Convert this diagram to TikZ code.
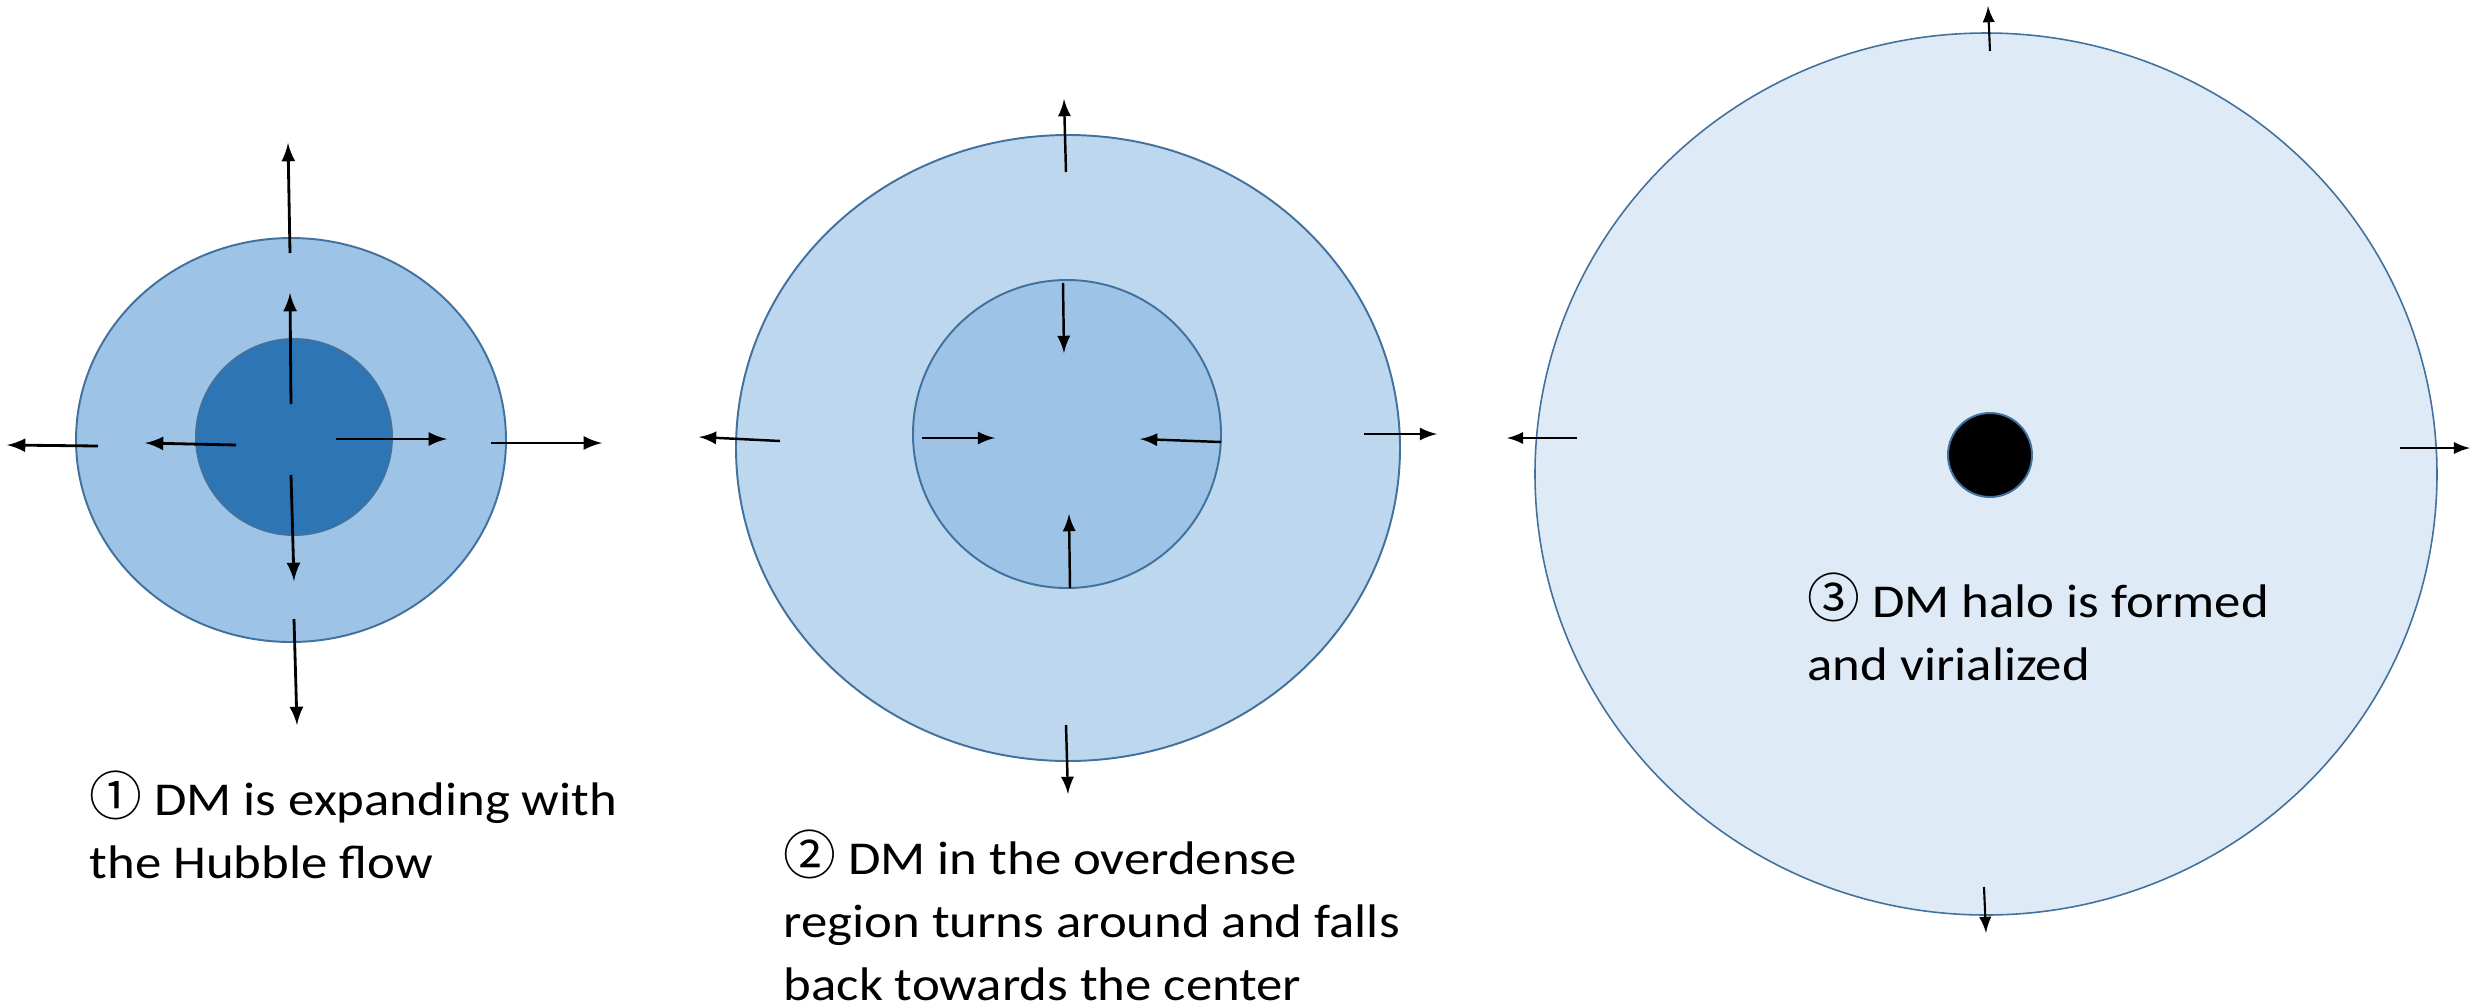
\documentclass[tikz,border=0pt]{standalone}
\usepackage{fontspec}
\setmainfont{Carlito}[FakeStretch=1.12]
\newfontfamily\circfont{Noto Sans CJK JP}

\definecolor{haloline}{HTML}{41719C}
\definecolor{haloA}{HTML}{9DC3E6}
\definecolor{coreA}{HTML}{2E75B6}
\definecolor{haloB}{HTML}{BDD7EE}
\definecolor{haloC}{HTML}{DEEBF7}

\newcommand{\stagenum}[1]{{\circfont\fontsize{15}{15}\selectfont #1}}

\begin{document}
\begin{tikzpicture}[> = latex, x = 0.01cm, y = -0.01cm,
	shell/.style = {draw = haloline, line width = 0.55pt},
	flow/.style = {->, line width = 0.8pt},
	thinflow/.style = {->, line width = 0.6pt},
	caption/.style = {anchor = base west, inner sep = 0pt, align = left,
		font = \fontsize{13.4}{17.8}\selectfont}]

	\useasboundingbox (0, 0) rectangle (2471, 1005);

	% Stage 1: expansion

	\draw [shell, fill = haloA] (291, 440) ellipse [x radius = 215, y radius = 202];
	\draw [shell, fill = coreA] (294, 437) circle [radius = 98];

	\foreach \xa/\ya/\xb/\yb in {290/253/288/143, 291/404/290/293, 98/446/7/445,
		236/445/145/443, 336/439/447/439, 491/443/602/443, 291/475/294/581, 294/619/297/725}
	{
		\draw [flow] (\xa, \ya) -- (\xb, \yb);
	}

	% Stage 2: turn around

	\draw [shell, fill = haloB] (1068, 448) ellipse [x radius = 332, y radius = 313];
	\draw [shell, fill = haloA] (1067, 434) circle [radius = 154];

	\foreach \xa/\ya/\xb/\yb in {1066/172/1064/99, 1063/283/1064/353, 780/441/699/437,
		922/438/995/438, 1221/442/1140/439, 1364/434/1437/434, 1070/588/1069/514, 1066/725/1068/794}
	{
		\draw [flow, line width = 0.7pt] (\xa, \ya) -- (\xb, \yb);
	}

	% Stage 3: virialized halo

	\draw [shell, line width = 0.45pt, fill = haloC] (1986, 474) ellipse [x radius = 451, y radius = 441];
	\draw [shell, fill = black] (1990, 455) circle [radius = 42];

	\foreach \xa/\ya/\xb/\yb in {1990/51/1988/6, 1577/438/1507/438, 2400/448/2470/448, 1984/887/1986/933}
	{
		\draw [thinflow] (\xa, \ya) -- (\xb, \yb);
	}

	% Captions (placed at the baseline of their last line)

	\node [caption] (capA) at (89, 878) {\stagenum{①} DM is expanding with\\the Hubble flow};
	\node [caption] (capB) at (783, 1000) {\stagenum{②} DM in the overdense\\region turns around and falls\\back towards the center};
	\node [caption] (capC) at (1807, 680) {\stagenum{③} DM halo is formed\\and virialized};

\end{tikzpicture}
\end{document}
